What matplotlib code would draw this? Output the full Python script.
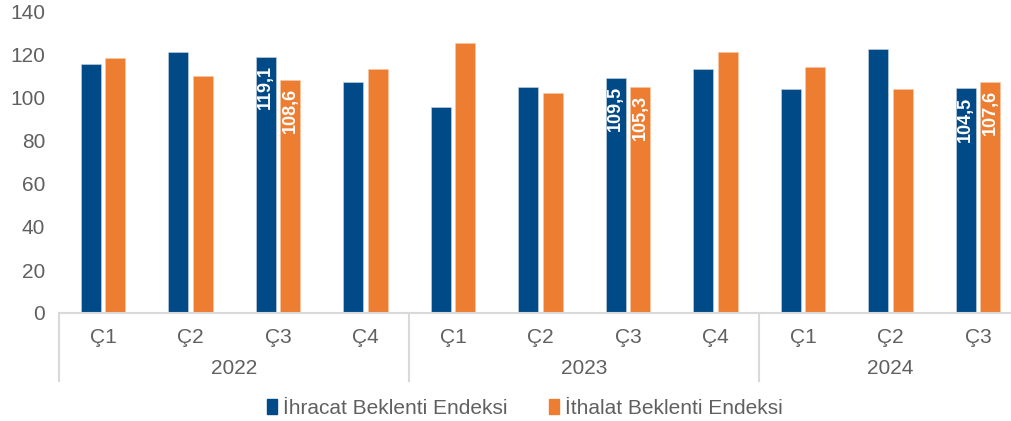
import matplotlib.pyplot as plt
from matplotlib.patches import Patch
import numpy as np

plt.rcParams['font.family'] = ['Liberation Sans', 'DejaVu Sans']

# veriler
ceyrekler = ['Ç1', 'Ç2', 'Ç3', 'Ç4', 'Ç1', 'Ç2', 'Ç3', 'Ç4', 'Ç1', 'Ç2', 'Ç3']
yillar = ['2022', '2023', '2024']
yil_ceyrek_sayisi = [4, 4, 3]
ihracat = [115.9, 121.3, 119.1, 107.6, 95.6, 105.0, 109.5, 113.6, 104.3, 122.9, 104.5]
ithalat = [118.5, 110.3, 108.6, 113.6, 125.7, 102.2, 105.3, 121.3, 114.2, 104.3, 107.6]
etiketli = [2, 6, 10]  # değeri yazılan çeyrekler

mavi = '#004a87'
turuncu = '#ed7d31'
gri = '#606060'
cizgi = '#d9d9d9'
fs = 15

fig = plt.figure(figsize=(10.12, 4.21), dpi=100)
ax = fig.add_axes([59.25 / 1012, 108 / 421, 962.5 / 1012, 301 / 421])

x = np.arange(len(ceyrekler))
w = 0.225
ax.bar(x - 0.14, ihracat, w, color=mavi, edgecolor='#c9d6e3', linewidth=0.4)
ax.bar(x + 0.14, ithalat, w, color=turuncu, edgecolor='#f6c9a6', linewidth=0.4)

# bar içindeki değerler
for i in etiketli:
    for dx, val in ((-0.14, ihracat[i]), (0.14, ithalat[i])):
        ax.annotate(f'{val:.1f}'.replace('.', ','), (x[i] + dx, val),
                    xytext=(0, -6), textcoords='offset points',
                    rotation=90, ha='center', va='top', color='white',
                    fontsize=13, fontweight='bold')

ax.set_xlim(-0.5, len(ceyrekler) - 0.5)
ax.set_ylim(0, 140)
ax.set_yticks(range(0, 141, 20))
ax.tick_params(axis='y', length=0, labelsize=fs, labelcolor=gri, pad=10)
ax.set_xticks([])
for s in ['top', 'right', 'left']:
    ax.spines[s].set_visible(False)
ax.spines['bottom'].set_color(cizgi)
ax.spines['bottom'].set_linewidth(1.5)

# çeyrek ve yıl etiketleri
trans = ax.get_xaxis_transform()
for i, c in enumerate(ceyrekler):
    ax.text(x[i], -0.08, c, transform=trans, ha='center', va='center',
            fontsize=fs, color=gri)
bas = 0
sinirlar = [-0.5]
for yil, n in zip(yillar, yil_ceyrek_sayisi):
    ax.text(bas + (n - 1) / 2, -0.183, yil, transform=trans, ha='center',
            va='center', fontsize=fs, color=gri)
    bas += n
    sinirlar.append(bas - 0.5)
for s in sinirlar:
    ax.plot([s, s], [0, -0.225], transform=trans, color=cizgi, lw=1.5,
            clip_on=False)

# lejant
handles = [Patch(color=mavi, label='İhracat Beklenti Endeksi'),
           Patch(color=turuncu, label='İthalat Beklenti Endeksi')]
fig.legend(handles=handles, loc='center', bbox_to_anchor=(525 / 1012, 1 - 408 / 421),
           ncol=2, frameon=False, fontsize=fs, labelcolor=gri,
           handlelength=0.45, handleheight=0.7, handletextpad=0.3, columnspacing=2.0)

fig.savefig('out.png', dpi=100)
